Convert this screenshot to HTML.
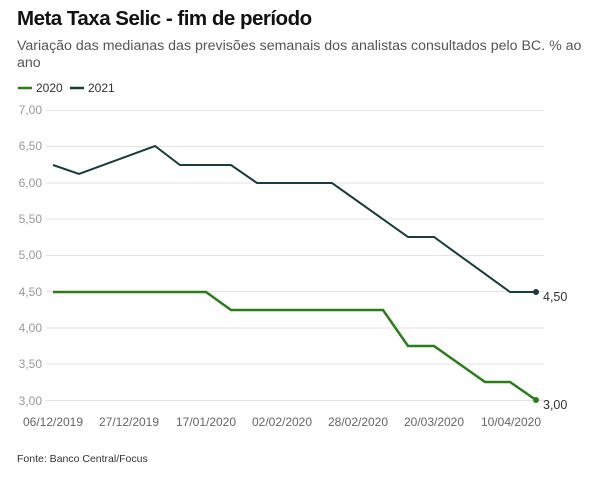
<!DOCTYPE html>
<html><head><meta charset="utf-8"><style>
body{margin:0;background:#fff;width:606px;height:482px;overflow:hidden;font-family:"Liberation Sans",sans-serif}
</style></head><body>
<svg width="606" height="482" xmlns="http://www.w3.org/2000/svg" font-family="Liberation Sans, sans-serif">
<text x="17" y="25" font-size="20.5" font-weight="bold" fill="#111" letter-spacing="-0.5">Meta Taxa Selic - fim de período</text>
<text x="17" y="50" font-size="14.2" fill="#555">Variação das medianas das previsões semanais dos analistas consultados pelo BC. % ao</text>
<text x="17" y="67" font-size="14.2" fill="#555">ano</text>
<line x1="18" y1="88" x2="32" y2="88" stroke="#2a7d1a" stroke-width="2.5"/>
<text x="36" y="92" font-size="12" fill="#333">2020</text>
<line x1="70" y1="88" x2="84" y2="88" stroke="#1b3b3b" stroke-width="2.5"/>
<text x="88" y="92" font-size="12" fill="#333">2021</text>
<g stroke="#e3e3e3" stroke-width="1">
<line x1="46" y1="110.5" x2="544" y2="110.5"/><line x1="46" y1="146.5" x2="544" y2="146.5"/>
<line x1="46" y1="183" x2="544" y2="183"/><line x1="46" y1="219" x2="544" y2="219"/>
<line x1="46" y1="255.5" x2="544" y2="255.5"/><line x1="46" y1="291.5" x2="544" y2="291.5"/>
<line x1="46" y1="328" x2="544" y2="328"/><line x1="46" y1="364" x2="544" y2="364"/>
<line x1="46" y1="400.5" x2="544" y2="400.5"/>
</g>
<g font-size="12" fill="#999" text-anchor="end">
<text x="42" y="114">7,00</text><text x="42" y="150">6,50</text><text x="42" y="187">6,00</text>
<text x="42" y="223">5,50</text><text x="42" y="259">5,00</text><text x="42" y="296">4,50</text>
<text x="42" y="332">4,00</text><text x="42" y="368">3,50</text><text x="42" y="405">3,00</text>
</g>
<g font-size="12" fill="#666" text-anchor="middle">
<text x="53" y="426">06/12/2019</text><text x="129" y="426">27/12/2019</text><text x="206" y="426">17/01/2020</text>
<text x="282" y="426">02/02/2020</text><text x="358" y="426">28/02/2020</text><text x="434" y="426">20/03/2020</text>
<text x="511" y="426">10/04/2020</text>
</g>
<polyline fill="none" stroke="#1b3b3b" stroke-width="2" points="53,165 79,174 155,146 180,165 231,165 257,183 332,183 408,237 434,237 510,292 536,292"/>
<circle cx="536" cy="292" r="3" fill="#1b3b3b"/>
<polyline fill="none" stroke="#2a7d1a" stroke-width="2.5" points="53,292 206,292 231,310 383,310 408,346 434,346 485,382 510,382 536,400"/>
<circle cx="536" cy="400" r="3" fill="#2a7d1a"/>
<text x="543" y="301" font-size="12.5" fill="#333">4,50</text>
<text x="543" y="409" font-size="12.5" fill="#333">3,00</text>
<text x="17" y="462" font-size="10.5" fill="#333">Fonte: Banco Central/Focus</text>
</svg>
</body></html>
